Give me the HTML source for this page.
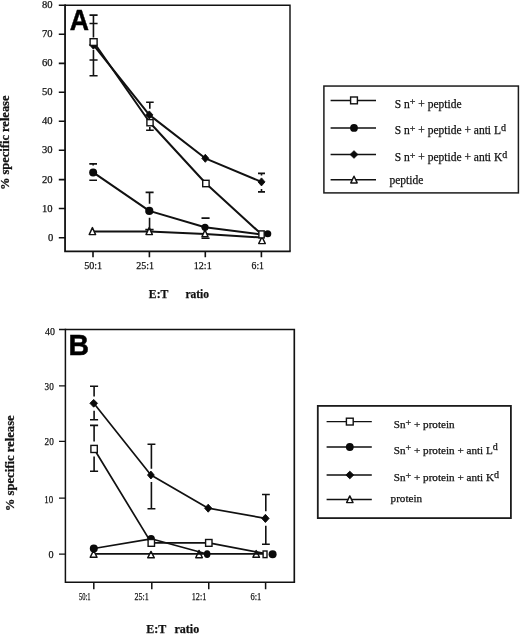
<!DOCTYPE html>
<html>
<head>
<meta charset="utf-8">
<title>Figure</title>
<style>
html,body{margin:0;padding:0;background:#fff;}
body{width:520px;height:635px;overflow:hidden;font-family:"Liberation Serif",serif;}
svg{display:block;will-change:transform;filter:blur(0.35px);}
text{font-variant-ligatures:none;font-family:"Liberation Serif",serif;fill:#111;stroke:#111;stroke-width:0.25px;}
.tk{font-size:10.6px;stroke-width:0.12px;}
.tkb{font-size:11.3px;stroke-width:0.4px;}
.bl{font-size:12px;font-weight:bold;fill:#111;}
.lg{font-size:11.5px;}
.sup{font-size:10px;}
.pan{font-family:"Liberation Sans",sans-serif;font-weight:bold;font-size:29.6px;fill:#000;stroke:#000;stroke-width:0.5;}
.ln{stroke:#111;stroke-width:2;fill:none;stroke-linejoin:round;}
.ax{stroke:#111;stroke-width:1.9;fill:none;}
.axt{stroke:#111;stroke-width:1.25;fill:none;}
.eb{stroke:#111;stroke-width:1.6;fill:none;}
.sq{fill:#fff;stroke:#111;stroke-width:1.4;}
.tr{fill:#fff;stroke:#111;stroke-width:1.45;stroke-linejoin:round;}
.fl{fill:#0a0a0a;stroke:none;}
.dm{fill:#0a0a0a;stroke:#0a0a0a;stroke-width:0.9;stroke-linejoin:round;}
</style>
</head>
<body>
<svg width="520" height="635" viewBox="0 0 520 635">
<rect x="0" y="0" width="520" height="635" fill="#ffffff"/>

<!-- ================= PANEL A ================= -->
<g id="panelA">
  <!-- frame -->
  <path class="axt" style="stroke-width:1.45" d="M65 5.3 H290 V251.3"/>
  <path class="ax" style="stroke-width:1.8" d="M65.05 4.6 V251.3 H290.7"/>
  <!-- y ticks -->
  <path class="ax" style="stroke-width:1.6" d="M58.8 5.2H65.5 M58.8 34.3H65.5 M58.8 63.4H65.5 M58.8 92.2H65.5 M58.8 121.2H65.5 M58.8 150.3H65.5 M58.8 179.6H65.5 M58.8 208.5H65.5 M58.8 237.7H65.5"/>
  <!-- x ticks -->
  <path class="ax" style="stroke-width:1.6" d="M93 251.3V257.3 M149.4 251.3V257.3 M205.3 251.3V257.3 M261.4 251.3V257.3"/>
  <!-- y tick labels -->
  <g class="tk" text-anchor="end">
    <text x="52.6" y="8.2">80</text>
    <text x="52.6" y="37.3">70</text>
    <text x="52.6" y="66.4">60</text>
    <text x="52.6" y="95.2">50</text>
    <text x="52.6" y="124.2">40</text>
    <text x="52.6" y="153.3">30</text>
    <text x="52.6" y="182.6">20</text>
    <text x="52.6" y="211.5">10</text>
    <text x="53.2" y="240.7">0</text>
  </g>
  <!-- x tick labels -->
  <g class="tk" style="font-size:10.8px">
    <text x="84.2" y="268.8" textLength="18" lengthAdjust="spacingAndGlyphs">50:1</text>
    <text x="136.2" y="268.8" textLength="17.8" lengthAdjust="spacingAndGlyphs">25:1</text>
    <text x="193.8" y="268.8" textLength="17.9" lengthAdjust="spacingAndGlyphs">12:1</text>
    <text x="251.5" y="268.8" textLength="12.5" lengthAdjust="spacingAndGlyphs">6:1</text>
  </g>
  <text class="bl" style="font-size:13px" x="148.8" y="298.3" textLength="19.6" lengthAdjust="spacingAndGlyphs">E:T</text>
  <text class="bl" style="font-size:13px" x="185.4" y="298.3" textLength="23.7" lengthAdjust="spacingAndGlyphs">ratio</text>
  <text class="bl" style="font-size:12.6px" transform="translate(9.1 190.1) rotate(-90)" textLength="94.6" lengthAdjust="spacingAndGlyphs">% specific release</text>
  <text class="pan" transform="translate(69.8 29.5) scale(0.9 1)">A</text>

  <!-- error bars -->
  <path class="eb" d="M93.45 15.1V37.6 M93.45 50V75.7 M89.5 15.15H97.6 M89.5 23.5H97.6 M89.5 60H97.6 M89.5 75.7H97.6"/>
  <path class="eb" d="M149.8 102.3V108.8 M149.8 127V130.3 M146.1 102.3H153.7 M146.1 130.3H153.7"/>
  <path class="eb" d="M93.15 163.9V165.6 M89.3 163.9H97 M89.3 180.2H97"/>
  <path class="eb" d="M149.55 192.4V203.8 M149.55 217.7V229.6 M145.6 192.4H153.6 M145.3 229.65H153.6"/>
  <path class="eb" d="M201.5 218.1H209.6 M201.5 238.3H209.6"/>
  <path class="eb" d="M261.5 173.4V175.5 M261.5 189V191.9 M258 173.4H265 M258 191.9H265"/>

  <!-- series lines -->
  <path class="ln" d="M92.5 231.5 L149.2 231.5 L205 234.1 L261.5 237.5"/>
  <path class="ln" d="M93.15 172.45 L149.3 210.9 L205 227.3 L261.5 234.4"/>
  <path class="ln" d="M93.4 44.8 L149.3 114.9 L205.3 158.3 L261.5 181.9"/>
  <path class="ln" d="M93.6 42 L150 122.7 L205.9 183.5 L261.5 234.3"/>

  <!-- markers: triangles -->
  <path class="tr" d="M92.40 227.60 L95.60 234.60 H89.20 Z"/>
  <path class="tr" d="M149.20 227.60 L152.40 234.60 H146.00 Z"/>
  <path class="tr" d="M205.00 229.90 L208.05 236.80 H201.95 Z"/>
  <path class="tr" d="M262.00 236.80 L265.30 243.60 H258.70 Z"/>
  <!-- circles -->
  <circle class="fl" cx="93.15" cy="172.45" r="4"/>
  <circle class="fl" cx="149.3" cy="210.9" r="4.1"/>
  <circle class="fl" cx="205" cy="227.3" r="3.6"/>
  <circle class="fl" cx="267.7" cy="233.75" r="3.6"/>
  <!-- diamonds -->
  <path class="dm" d="M93.4 40.6 l3.8 4.3 l-3.8 4.3 l-3.8 -4.3Z"/>
  <path class="dm" d="M149.3 110.9 l3.6 4 l-3.6 4 l-3.6 -4Z"/>
  <path class="dm" d="M205.3 154.3 l3.5 4 l-3.5 4 l-3.5 -4Z"/>
  <path class="dm" d="M261.5 177.9 l3.5 4 l-3.5 4 l-3.5 -4Z"/>
  <!-- squares -->
  <rect class="sq" x="90.1" y="38.7" width="7" height="6.7"/>
  <rect class="sq" x="146.9" y="119.6" width="6.2" height="6.2"/>
  <rect class="sq" x="202.7" y="180.3" width="6.4" height="6.4"/>
  <rect class="sq" x="258.9" y="230.9" width="5.3" height="7"/>
</g>

<!-- legend A -->
<g id="legendA">
  <rect x="323.9" y="86.05" width="194.5" height="106.85" fill="#fff" stroke="#1c1c1c" stroke-width="1.5"/>
  <path class="eb" style="stroke-width:1.5" d="M330.6 100.4H376 M330.6 127.9H376 M330.6 154.5H376 M330.6 179.8H376"/>
  <rect class="sq" x="350.6" y="97" width="6.8" height="6.8"/>
  <circle class="fl" cx="354" cy="127.9" r="3.9"/>
  <path class="dm" d="M354 150.7 l3.9 3.8 l-3.9 3.8 l-3.9 -3.8Z"/>
  <path class="tr" d="M354.00 176.20 L357.20 182.90 H350.80 Z"/>
  <g class="lg">
    <text x="394.8" y="107.5">S n<tspan class="sup" dy="-2.1">+</tspan><tspan dy="2.1"> + peptide</tspan></text>
    <text x="394.8" y="134.4">S n<tspan class="sup" dy="-2.1">+</tspan><tspan dy="2.1"> + peptide + anti L</tspan><tspan class="sup" dy="-3.3">d</tspan></text>
    <text x="394.8" y="161.4">S n<tspan class="sup" dy="-2.1">+</tspan><tspan dy="2.1"> + peptide + anti K</tspan><tspan class="sup" dy="-3.3">d</tspan></text>
    <text x="389.5" y="183.7">peptide</text>
  </g>
</g>

<!-- ================= PANEL B ================= -->
<g id="panelB">
  <path class="axt" style="stroke-width:1.65" d="M65.4 329.5 H294.3 V582.3"/>
  <path class="ax" style="stroke-width:1.5" d="M65.4 328.7 V582.3 H295.1"/>
  <path class="ax" style="stroke-width:1.4" d="M59 329.5H65.5 M59 385.9H65.5 M59 441.4H65.5 M59 498.1H65.5 M59 554.1H65.5"/>
  <path class="ax" style="stroke-width:1.5" d="M93.8 582V589.3 M151.8 582V589.3 M208.75 582V589.3 M265.6 582V589.3"/>
  <g class="tkb">
    <text x="45.1" y="335.3" textLength="9.9" lengthAdjust="spacingAndGlyphs">40</text>
    <text x="44.6" y="390.1" textLength="9.2" lengthAdjust="spacingAndGlyphs">30</text>
    <text x="44.6" y="445.4" textLength="9.2" lengthAdjust="spacingAndGlyphs">20</text>
    <text x="44.2" y="503.4" textLength="8.9" lengthAdjust="spacingAndGlyphs">10</text>
    <text x="48.5" y="558.4" textLength="5.1" lengthAdjust="spacingAndGlyphs">0</text>
  </g>
  <g class="tkb">
    <text x="78.9" y="600" textLength="11.6" lengthAdjust="spacingAndGlyphs">50:1</text>
    <text x="134.5" y="600" textLength="14.2" lengthAdjust="spacingAndGlyphs">25:1</text>
    <text x="191.8" y="600" textLength="14.5" lengthAdjust="spacingAndGlyphs">12:1</text>
    <text x="250.5" y="600" textLength="10.8" lengthAdjust="spacingAndGlyphs">6:1</text>
  </g>
  <text class="bl" x="146.3" y="633.4">E:T</text>
  <text class="bl" x="174.5" y="633.4">ratio</text>
  <text class="bl" style="font-size:11.8px" transform="translate(13.8 511.3) rotate(-90)" textLength="96" lengthAdjust="spacingAndGlyphs">% specific release</text>
  <text class="pan" transform="translate(68.5 354.5) scale(0.96 1)">B</text>

  <!-- error bars -->
  <path class="eb" d="M94.1 386.3V396.5 M94.1 410.7V419.7 M90 386.3H98.1 M90 419.7H98.1"/>
  <path class="eb" d="M94.1 425.4V441.6 M94.1 456.4V471.3 M90 425.4H98.1 M90 471.3H98.1"/>
  <path class="eb" d="M151.4 444.2V468.7 M151.4 482V508.7 M147.5 444.2H155.4 M147.5 508.7H155.4"/>
  <path class="eb" d="M265.8 494.5V511.3 M265.8 525.8V544.3 M262 494.5H269.8 M262 544.3H269.8"/>

  <!-- lines -->
  <path class="ln" style="stroke-width:1.7" d="M93.8 553.9 H265"/>
  <path class="ln" style="stroke-width:1.7" d="M93.8 548.5 L151.1 538.8 L207.1 554"/>
  <path class="ln" style="stroke-width:1.7" d="M94.1 449 L151.3 542.9 L208.8 542.8 L264 553.4"/>
  <path class="ln" style="stroke-width:1.7" d="M93.8 403.2 L150.9 475 L208.2 508.2 L265.4 518.4"/>

  <!-- triangles -->
  <path class="tr" d="M93.60 550.40 L97.00 557.30 H90.20 Z"/>
  <path class="tr" d="M151.00 551.40 L154.30 557.80 H147.70 Z"/>
  <path class="tr" style="fill:none" d="M199.05 550.40 L202.35 557.70 H195.75 Z"/>
  <path class="tr" style="fill:none" d="M256.20 550.60 L259.50 557.30 H252.90 Z"/>
  <!-- circles -->
  <circle class="fl" cx="93.8" cy="548.4" r="4"/>
  <circle class="fl" cx="151.1" cy="538.7" r="3.8"/>
  <ellipse class="fl" cx="207.15" cy="554.05" rx="3.3" ry="3.9"/>
  <circle class="fl" cx="272.6" cy="554.2" r="4"/>
  <!-- squares -->
  <rect class="sq" x="90.9" y="445.4" width="6.4" height="7.1"/>
  <rect class="sq" x="148.1" y="539.5" width="6.4" height="6.8"/>
  <rect class="sq" x="205.6" y="539.5" width="6.4" height="6.8"/>
  <rect class="sq" x="263.1" y="551" width="3.9" height="6.6"/>
  <!-- diamonds -->
  <path class="dm" d="M93.7 399.4 l3.8 3.9 l-3.8 3.9 l-3.8 -3.9Z"/>
  <path class="dm" d="M150.9 471.1 l3.4 3.95 l-3.4 3.95 l-3.4 -3.95Z"/>
  <path class="dm" d="M208.2 504.2 l3.6 4 l-3.6 4 l-3.6 -4Z"/>
  <path class="dm" d="M265.4 514.3 l3.7 4.1 l-3.7 4.1 l-3.7 -4.1Z"/>
</g>

<!-- legend B -->
<g id="legendB">
  <rect x="317.8" y="405.9" width="193.1" height="112.2" fill="#fff" stroke="#1c1c1c" stroke-width="1.8"/>
  <path class="eb" style="stroke-width:1.3" d="M326.6 421.6H371.8 M326.6 447H371.8 M326.6 475H371.8 M326.6 499.5H371.8"/>
  <rect class="sq" x="346.4" y="418.2" width="6.8" height="6.8"/>
  <circle class="fl" cx="349.8" cy="447" r="3.9"/>
  <path class="dm" d="M349.8 471.2 l3.9 3.8 l-3.9 3.8 l-3.9 -3.8Z"/>
  <path class="tr" d="M349.80 495.90 L353.00 502.60 H346.60 Z"/>
  <g class="lg" style="font-size:11.15px">
    <text x="393.8" y="428">Sn<tspan class="sup" dy="-2.1">+</tspan><tspan dy="2.1"> + protein</tspan></text>
    <text x="393.8" y="453.5">Sn<tspan class="sup" dy="-2.1">+</tspan><tspan dy="2.1"> + protein + anti L</tspan><tspan class="sup" dy="-3.3">d</tspan></text>
    <text x="393.8" y="480.8">Sn<tspan class="sup" dy="-2.1">+</tspan><tspan dy="2.1"> + protein + anti K</tspan><tspan class="sup" dy="-3.3">d</tspan></text>
    <text x="390.6" y="502.3">protein</text>
  </g>
</g>
</svg>
</body>
</html>
